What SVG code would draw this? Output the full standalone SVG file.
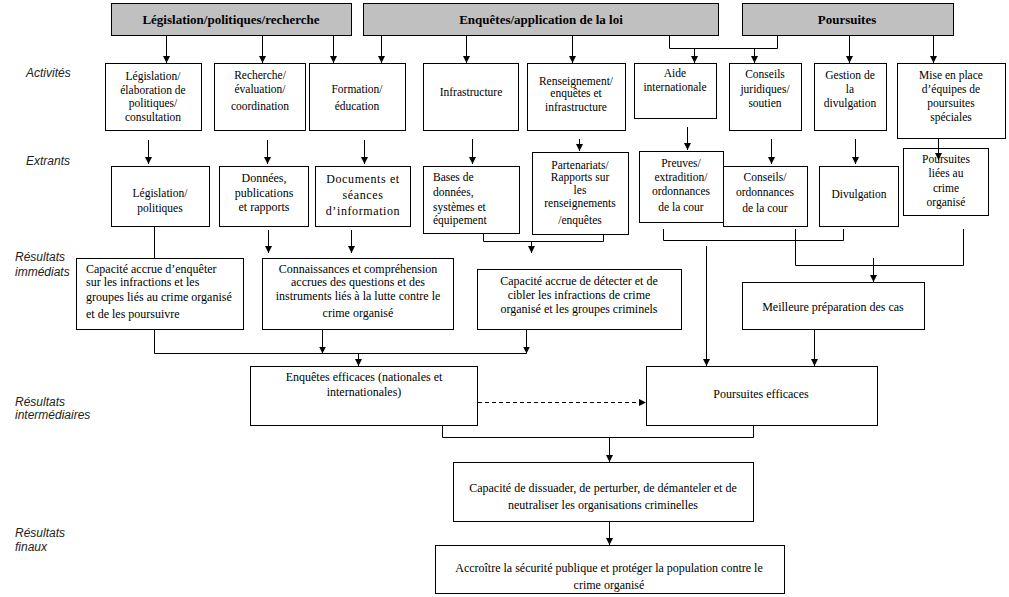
<svg xmlns="http://www.w3.org/2000/svg" width="1009" height="597" viewBox="0 0 1009 597">
<defs>
<style>
.box{fill:#fff;stroke:#000;stroke-width:1}
.hdr{fill:#c0c0c0;stroke:#000;stroke-width:1}
.t{font-family:"Liberation Serif","Times New Roman",serif;font-size:11.5px;fill:#000;text-anchor:middle}
.t12{font-size:12px}
.l{text-anchor:start}
.h{font-family:"Liberation Serif","Times New Roman",serif;font-size:13px;font-weight:bold;fill:#000;text-anchor:middle}
.lab{font-family:"Liberation Sans",Arial,sans-serif;font-size:12px;font-style:italic;fill:#222}
.c{fill:none;stroke:#000;stroke-width:1}
.a{marker-end:url(#ah)}
.d{stroke-dasharray:4 3}
</style>
<marker id="ah" viewBox="0 0 8 8" refX="8" refY="4" markerWidth="7" markerHeight="7" markerUnits="userSpaceOnUse" orient="auto">
<path d="M0,0 L8,4 L0,8 z" fill="#000"/>
</marker>
</defs>
<rect width="1009" height="597" fill="#fff"/>

<g id="labels">
<text class="lab" x="26" y="77">Activités</text>
<text class="lab" x="26" y="165">Extrants</text>
<text class="lab" x="15" y="261">Résultats</text>
<text class="lab" x="15" y="276">immédiats</text>
<text class="lab" x="15" y="406">Résultats</text>
<text class="lab" x="15" y="419">intermédiaires</text>
<text class="lab" x="15" y="537">Résultats</text>
<text class="lab" x="15" y="551">finaux</text>
</g>

<g id="h1"><rect class="hdr" x="111.5" y="3.5" width="240" height="32"/><text class="h" x="231" y="24">Législation/politiques/recherche</text></g>
<g id="h2"><rect class="hdr" x="363.5" y="3.5" width="355" height="32"/><text class="h" x="541" y="24">Enquêtes/application de la loi</text></g>
<g id="h3"><rect class="hdr" x="742.5" y="3.5" width="211" height="32"/><text class="h" x="847" y="24">Poursuites</text></g>

<g id="a1"><rect class="box" x="105.5" y="63.5" width="96" height="67"/><text class="t" x="153" y="80">Législation/</text><text class="t" x="153" y="93.5">élaboration de</text><text class="t" x="153" y="107">politiques/</text><text class="t" x="153" y="121">consultation</text></g>
<g id="a2"><rect class="box" x="214.5" y="63.5" width="91" height="67"/><text class="t" x="260" y="79">Recherche/</text><text class="t" x="260" y="93">évaluation/</text><text class="t" x="260" y="110">coordination</text></g>
<g id="a3"><rect class="box" x="309.5" y="63.5" width="96" height="67"/><text class="t" x="357" y="93">Formation/</text><text class="t" x="357" y="110">éducation</text></g>
<g id="a4"><rect class="box" x="423.5" y="63.5" width="95" height="67"/><text class="t" x="471" y="96">Infrastructure</text></g>
<g id="a5"><rect class="box" x="527.5" y="63.5" width="98" height="67"/><text class="t" x="576" y="85">Renseignement/</text><text class="t" x="576" y="97">enquêtes et</text><text class="t" x="576" y="111">infrastructure</text></g>
<g id="a6"><rect class="box" x="634.5" y="63.5" width="82" height="55"/><text class="t" x="675" y="77">Aide</text><text class="t" x="675" y="91">internationale</text></g>
<g id="a7"><rect class="box" x="729.5" y="63.5" width="72" height="67"/><text class="t" x="765" y="78">Conseils</text><text class="t" x="765" y="93">juridiques/</text><text class="t" x="765" y="107">soutien</text></g>
<g id="a8"><rect class="box" x="814.5" y="63.5" width="72" height="67"/><text class="t" x="850" y="79">Gestion de</text><text class="t" x="850" y="93">la</text><text class="t" x="850" y="107">divulgation</text></g>
<g id="a9"><rect class="box" x="897.5" y="63.5" width="108" height="75"/><text class="t" x="951" y="79">Mise en place</text><text class="t" x="951" y="93">d’équipes de</text><text class="t" x="951" y="107">poursuites</text><text class="t" x="951" y="121">spéciales</text></g>

<g id="e1"><rect class="box" x="111.5" y="166.5" width="98" height="60"/><text class="t" x="160" y="197">Législation/</text><text class="t" x="160" y="212">politiques</text></g>
<g id="e2"><rect class="box" x="219.5" y="166.5" width="89" height="60"/><text class="t t12" x="264" y="182">Données,</text><text class="t t12" x="264" y="197">publications</text><text class="t t12" x="264" y="211">et rapports</text></g>
<g id="e3"><rect class="box" x="315.5" y="166.5" width="95" height="60"/><text class="t t12" x="363" y="183" letter-spacing="0.6">Documents et</text><text class="t t12" x="363" y="199" letter-spacing="0.6">séances</text><text class="t t12" x="363" y="215" letter-spacing="0.6">d’information</text></g>
<g id="e4"><rect class="box" x="423.5" y="166.5" width="96" height="67"/><text class="t l" x="433" y="181">Bases de</text><text class="t l" x="433" y="196">données,</text><text class="t l" x="433" y="211">systèmes et</text><text class="t l" x="433" y="224">équipement</text></g>
<g id="e5"><rect class="box" x="532.5" y="152.5" width="96" height="82"/><text class="t" x="580" y="169">Partenariats/</text><text class="t" x="580" y="181">Rapports sur</text><text class="t" x="580" y="194">les</text><text class="t" x="580" y="207">renseignements</text><text class="t" x="580" y="224">/enquêtes</text></g>
<g id="e6"><rect class="box" x="639.5" y="151.5" width="84" height="71"/><text class="t" x="681" y="167">Preuves/</text><text class="t" x="681" y="181">extradition/</text><text class="t" x="681" y="195">ordonnances</text><text class="t" x="681" y="211">de la cour</text></g>
<g id="e7"><rect class="box" x="723.5" y="166.5" width="84" height="60"/><text class="t" x="765" y="181">Conseils/</text><text class="t" x="765" y="196">ordonnances</text><text class="t" x="765" y="212">de la cour</text></g>
<g id="e8"><rect class="box" x="819.5" y="166.5" width="79" height="60"/><text class="t" x="859" y="198">Divulgation</text></g>
<g id="e9"><rect class="box" x="903.5" y="148.5" width="85" height="67"/><text class="t" x="946" y="163">Poursuites</text><text class="t" x="946" y="177">liées au</text><text class="t" x="946" y="192">crime</text><text class="t" x="946" y="206">organisé</text></g>

<g id="r1"><rect class="box" x="76.5" y="258.5" width="167" height="71"/><text class="t t12 l" x="86" y="273">Capacité accrue d’enquêter</text><text class="t t12 l" x="86" y="286">sur les infractions et les</text><text class="t t12 l" x="86" y="301">groupes liés au crime organisé</text><text class="t t12 l" x="86" y="318">et de les poursuivre</text></g>
<g id="r2"><rect class="box" x="262.5" y="258.5" width="191" height="71"/><text class="t t12" x="358" y="273">Connaissances et compréhension</text><text class="t t12" x="358" y="286">accrues des questions et des</text><text class="t t12" x="358" y="300">instruments liés à la lutte contre le</text><text class="t t12" x="358" y="317">crime organisé</text></g>
<g id="r3"><rect class="box" x="477.5" y="269.5" width="204" height="60"/><text class="t t12" x="579" y="285">Capacité accrue de détecter et de</text><text class="t t12" x="579" y="299">cibler les infractions de crime</text><text class="t t12" x="579" y="313">organisé et les groupes criminels</text></g>
<g id="r4"><rect class="box" x="742.5" y="282.5" width="182" height="47"/><text class="t t12" x="833" y="311">Meilleure préparation des cas</text></g>

<g id="i1"><rect class="box" x="250.5" y="366.5" width="227" height="59"/><text class="t t12" x="364" y="381">Enquêtes efficaces (nationales et</text><text class="t t12" x="364" y="396">internationales)</text></g>
<g id="i2"><rect class="box" x="646.5" y="366.5" width="231" height="59"/><text class="t t12" x="761" y="398">Poursuites efficaces</text></g>

<g id="f1"><rect class="box" x="453.5" y="462.5" width="300" height="59"/><text class="t t12" x="603" y="492">Capacité de dissuader, de perturber, de démanteler et de</text><text class="t t12" x="603" y="509">neutraliser les organisations criminelles</text></g>
<g id="f2"><rect class="box" x="435.5" y="545.5" width="349" height="48"/><text class="t t12" x="609" y="572">Accroître la sécurité publique et protéger la population contre le</text><text class="t t12" x="609" y="589">crime organisé</text></g>

<g id="connectors">
<path class="c a" d="M166.5,36 V63"/>
<path class="c a" d="M262.5,36 V63"/>
<path class="c a" d="M333.5,36 V63"/>
<path class="c a" d="M381.5,36 V63"/>
<path class="c a" d="M466.5,36 V63"/>
<path class="c a" d="M572.5,36 V63"/>
<path class="c" d="M669.5,36 V48.5 H777.5 V36"/>
<path class="c a" d="M694.5,48.5 V63"/>
<path class="c a" d="M754.5,48.5 V63"/>
<path class="c a" d="M849.5,36 V63"/>
<path class="c a" d="M933.5,36 V63"/>

<path class="c a" d="M148.5,140 V164"/>
<path class="c a" d="M267.5,140 V164"/>
<path class="c a" d="M364.5,140 V164"/>
<path class="c a" d="M472.5,139 V164"/>
<path class="c a" d="M579.5,139 V151"/>
<path class="c a" d="M687.5,127 V150"/>
<path class="c a" d="M771.5,139 V164"/>
<path class="c a" d="M855.5,139 V164"/>
<path class="c a" d="M938.5,139 V160"/>

<path class="c" d="M154.5,227 V258"/>
<path class="c a" d="M268.5,230 V253"/>
<path class="c a" d="M351.5,230 V253"/>
<path class="c" d="M483.5,234 V241.5 H603.5 V235"/>
<path class="c a" d="M531.5,241.5 V253"/>
<path class="c" d="M663.5,229 V240.5 H843.5 V229"/>
<path class="c a" d="M706.5,246 V366"/>
<path class="c" d="M795.5,229 V265.5 H963.5 V229"/>
<path class="c a" d="M873.5,258 V282"/>

<path class="c" d="M154.5,330 V353.5 H526.5"/>
<path class="c a" d="M322.5,330 V353.5"/>
<path class="c a" d="M526.5,330 V353.5"/>
<path class="c a" d="M358.5,353.5 V366"/>
<path class="c a" d="M814.5,330 V366"/>
<path class="c d a" d="M478,402.5 H646"/>

<path class="c" d="M442.5,426 V437.5 H753.5 V426"/>
<path class="c a" d="M609.5,437.5 V462"/>
<path class="c a" d="M609.5,522 V545"/>
</g>
</svg>
